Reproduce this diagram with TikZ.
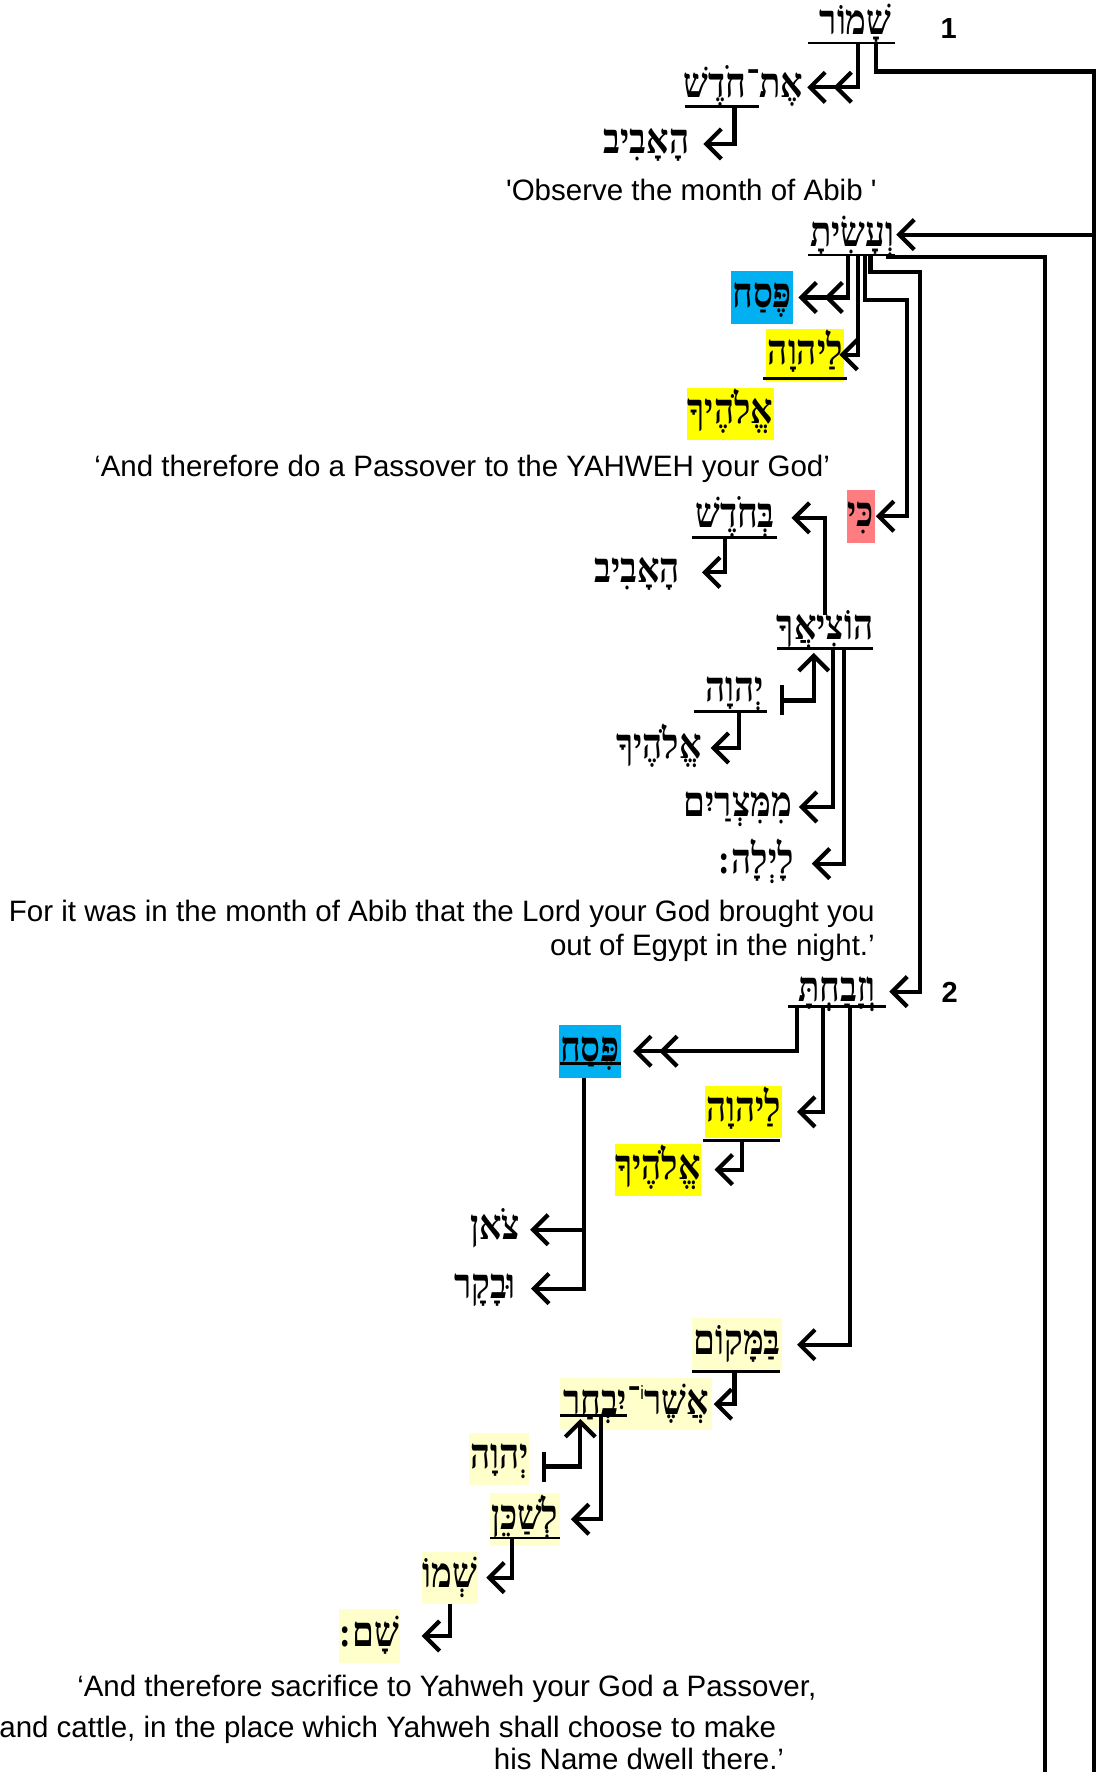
\documentclass[tikz,border=0pt]{standalone}
\usepackage{fontspec}
\newfontfamily\enfont{Liberation Sans}
\newfontfamily\hebfont[Script=Hebrew]{Liberation Serif}
\TeXXeTstate=1
\usetikzlibrary{arrows.meta}
\definecolor{hblue}{HTML}{00B0F0}
\definecolor{hyel}{HTML}{FFFF00}
\definecolor{hred}{HTML}{FF7C80}
\definecolor{hlight}{HTML}{FFFFCC}
\newcommand{\hbw}[1]{\scalebox{1}[1.2]{\hebfont\bfseries\beginR #1\endR}}
\begin{document}
\begin{tikzpicture}[x=1.1333pt,y=-1.1333pt,
  heb/.style={font=\hebfont\fontsize{35}{40}\selectfont, inner sep=0pt, outer sep=0pt, text height=28pt, text depth=8pt},
  hw/.style={minimum width=#1*1.1333pt},
  bx/.style 2 args={minimum width=#1*1.1333pt, minimum height=#2*1.1333pt},
  en/.style={font=\enfont\fontsize{29.5}{35}\selectfont, inner sep=0pt},
  num/.style={font=\enfont\fontsize{29}{35}\bfseries\selectfont, inner sep=0pt},
  conn/.style={line width=4.2pt},
  ul/.style={line width=2.8pt},
  a1/.style={conn, -{Straight Barb[length=15pt,width=30pt]}, shorten >=#1},
  a1/.default=3pt,
  a2/.style={conn, -{Straight Barb[length=15pt,width=30pt,sep=6pt]Straight Barb[length=15pt,width=30pt]}, shorten >=#1},
  a2/.default=3pt,
  ba/.style={conn, {Bar[width=30pt]}-{Straight Barb[length=15pt,width=30pt]}}
]
\fill[white] (0,0) rectangle (975,1563.5);
\useasboundingbox (0,0) rectangle (975,1563.5);

% verse 1
\node[heb, hw=66] (shamor) at (755,22) {\hbw{שָׁמוֹר}};
\node[num] (n1) at (837,25) {1};
\node[heb, hw=104] (etchodesh) at (656,77) {\hbw{אֶת־חֹדֶשׁ}};
\node[heb, hw=75] (haaviv1) at (570.5,127) {\hbw{הָאָבִיב}};
\node[en, anchor=base] (t1) at (610,177) {'Observe the month of Abib '};
\node[heb, hw=76] (veasita) at (752,209) {\hbw{וְעָשִׂיתָ}};
\node[heb, bx={55}{47}, fill=hblue] (pesach1) at (672.5,262.5) {\hbw{פֶּסַח}};
\node[heb, bx={69}{46}, fill=hyel] (lyhwh1) at (710.5,313) {\hbw{לַיהוָה}};
\node[heb, bx={77}{46}, fill=hyel] (elohekha1) at (644.5,365) {\hbw{אֱלֹהֶיךָ}};
\node[en, anchor=base west] (t2) at (83,420) {‘And therefore do a Passover to the YAHWEH your God’};
\node[heb, bx={25}{47}, fill=hred] (ki) at (759.5,455.5) {\hbw{כִּי}};
\node[heb, hw=75] (bechodesh) at (648.5,457) {\hbw{בְּחֹדֶשׁ}};
\node[heb, hw=76] (haaviv2) at (562,505) {\hbw{הָאָבִיב}};
\node[heb, hw=84] (hotsiakha) at (728,555) {\hbw{הוֹצִיאֲךָ}};
\node[heb, hw=56] (yhwh2) at (648,610) {\hbw{יְהוָה}};
\node[heb, hw=77] (elohekha3) at (581.5,660) {\hbw{אֱלֹהֶיךָ}};
\node[heb, hw=94] (mimitsrayim) at (651,712) {\hbw{מִמִּצְרַיִם}};
\node[heb, hw=62] (layla) at (667,762) {\hbw{לָיְלָה\kern2pt :}};
\node[en, anchor=base east] (t3) at (772,813) {For it was in the month of Abib that the Lord your God brought you};
\node[en, anchor=base east] (t4) at (772,843) {out of Egypt in the night.’};

% verse 2
\node[heb, hw=87] (vezavachta) at (738.5,875) {\hbw{וְזָבַחְתָּ}};
\node[num] (n2) at (838,876) {2};
\node[heb, bx={55}{47}, fill=hblue] (pesach2) at (520.5,927.5) {\hbw{פֶּסַח}};
\node[heb, bx={68}{46}, fill=hyel] (lyhwh2) at (656,981) {\hbw{לַיהוָה}};
\node[heb, bx={75}{46}, fill=hyel] (elohekha2) at (580.5,1032) {\hbw{אֱלֹהֶיךָ}};
\node[heb, hw=40] (tson) at (437,1085) {\hbw{צֹאן}};
\node[heb, hw=60] (uvakar) at (428,1137) {\hbw{וּבָקָר}};
\node[heb, bx={79}{47}, fill=hlight] (bamakom) at (650.5,1186.5) {\hbw{בַּמָּקוֹם}};
\node[heb, bx={134}{46}, fill=hlight] (asher) at (561,1239) {\hbw{אֲשֶׁר\raisebox{12pt}{\enfont\mdseries\fontsize{16}{18}\selectfont i}־יִבְחַר}};
\node[heb, bx={53}{46}, fill=hlight] (yhwh3) at (440.5,1287) {\hbw{יְהוָה}};
\node[heb, bx={62}{47}, fill=hlight] (leshaken) at (463,1340.5) {\hbw{לְשַׁכֵּן}};
\node[heb, bx={50}{46}, fill=hlight] (shemo) at (397,1392) {\hbw{שְׁמוֹ}};
\node[heb, bx={48}{47}, fill=hlight] (sham) at (326,1443.5) {\hbw{שָׁם\kern2pt :}};
\node[en, anchor=base west] (t5) at (68,1497) {‘And therefore sacrifice to Yahweh your God a Passover,};
\node[en, anchor=base east] (t6) at (685,1533) {and cattle, in the place which Yahweh shall choose to make};
\node[en, anchor=base east] (t7) at (692,1561) {his Name dwell there.’};

% underlines
\draw[ul] (713,38) -- (790,38);
\draw[ul] (604,94) -- (670,94);
\draw[ul] (713,225) -- (790,225);
\draw[ul] (673,334) -- (747,334);
\draw[ul] (611,474) -- (686,474);
\draw[ul] (686,572) -- (770,572);
\draw[ul] (612,628) -- (677,628);
\draw[ul] (695,888) -- (782,888);
\draw[ul] (494,938) -- (548,938);
\draw[ul] (620,1006) -- (688,1006);
\draw[ul] (611,1210) -- (688,1210);
\draw[ul] (494,1249) -- (553,1249);
\draw[ul] (432,1357) -- (494,1357);

% connectors verse 1
\draw[a2=4pt] (757,38) |- (etchodesh);
\draw[a1=14pt] (648,94) |- (haaviv1);
\coordinate (bot1) at (965,1580);
\coordinate (j1) at (965,207);
\draw[conn] (773,38) |- (965,63) -- (bot1);
\draw[a1=1pt] (j1) -- (j1 -| veasita.east);
\draw[a2=5pt] (748,225) |- (pesach1);
\draw[a1=-5pt] (757,225) |- (lyhwh1);
\draw[a1=1pt] (763,225) |- (800,265) |- (ki);
\draw[a1=3pt] (768,225) |- (812,240) |- (vezavachta);
\coordinate (bot2) at (922,1580);
\draw[conn] (782,227) -| (bot2);
\draw[a1=14pt] (728,543) |- (bechodesh);
\draw[a1=22pt] (640,474) |- (haaviv2);
\draw[ba] (688,618) -| (718,576);
\draw[a1=8pt] (652,628) |- (elohekha3);
\draw[a1=7pt] (735,572) |- (mimitsrayim);
\draw[a1=18pt] (745,572) |- (layla);

% connectors verse 2
\draw[a2=12pt] (703,888) |- (pesach2);
\draw[a1=15pt] (726,888) |- (lyhwh2);
\draw[a1=15pt] (750,888) |- (bamakom);
\draw[a1=10pt] (pesach2.south -| 515,0) |- (tson);
\draw[a1=12pt] (pesach2.south -| 515,0) |- (uvakar);
\draw[a1=14pt] (655,1006) |- (elohekha2);
\draw[a1=2pt] (648,1210) |- (asher);
\draw[ba] (478,1294) -| (512,1252);
\draw[a1=11pt] (530,1250) |- (leshaken);
\draw[a1=8pt] (452,1357) |- (shemo);
\draw[a1=22pt] (397,1415) |- (sham);
\end{tikzpicture}
\end{document}
